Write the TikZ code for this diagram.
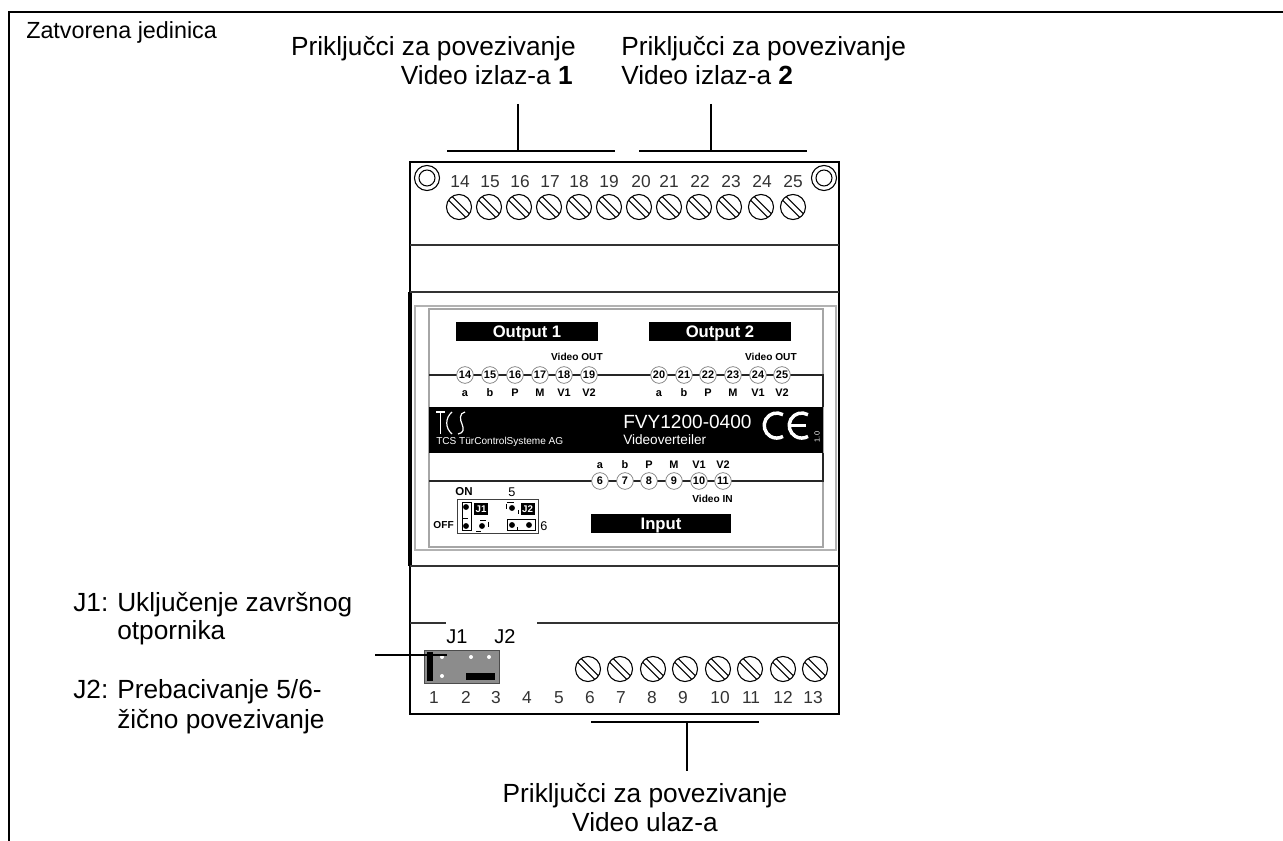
\documentclass[tikz,border=0pt]{standalone}
\usepackage{fontspec}
\setmainfont{Liberation Sans}
\usetikzlibrary{positioning,calc}
\newcommand{\hang}[1]{\makebox[33pt][l]{#1}}
\tikzset{
  label/.style={font=\fontsize{19.7}{23}\selectfont,inner sep=0pt},
  pinno/.style={font=\fontsize{13}{15}\selectfont,text=black!80,inner sep=0pt,anchor=base},
  term/.style={circle,draw=black!55,fill=white,line width=0.5pt,minimum size=12.5pt,inner sep=0pt,text height=5.9pt,text depth=0pt,font=\bfseries\fontsize{8.2}{9}\selectfont},
  termtxt/.style={font=\bfseries\fontsize{8.2}{9}\selectfont,inner sep=0pt,anchor=base},
  small/.style={font=\bfseries\fontsize{7.6}{9}\selectfont,inner sep=0pt},
  plate/.style={fill=black,text=white,font=\bfseries\fontsize{12.5}{14}\selectfont,inner sep=0pt,text height=9pt,text depth=0pt,minimum height=14.2pt},
  lead/.style={line width=1pt,black},
  edge/.style={line width=1pt,black!80},
  tag/.style={fill=black,text=white,inner sep=0pt,minimum width=10.5pt,minimum height=9pt,font=\bfseries\fontsize{7.3}{8}\selectfont},
  screw/.pic={
    \draw[line width=0.8pt,fill=white] (0,0) circle[radius=9.4pt];
    \draw[line width=0.7pt] (-7.85pt,5.15pt)--(5.15pt,-7.85pt);
    \draw[line width=0.7pt] (-5.15pt,7.85pt)--(7.85pt,-5.15pt);
  }
}
\begin{document}
\begin{tikzpicture}[x=0.75pt,y=-0.75pt]
  \useasboundingbox (0,0) rectangle (1283,841);
  \draw[line width=1.6pt] (9,841)--(9,12)--(1283,12);  % frame

  % housing
  \draw[line width=1.2pt] (410,162) rectangle (839,714);
  \draw[line width=2.4pt] (410,292)--(410,566);
  \draw[edge] (410,245)--(839,245);
  \draw[edge] (410,292)--(839,292);
  \draw[edge] (410,566)--(839,566);
  \draw[edge] (410,623)--(446,623);
  \draw[edge] (537,623)--(839,623);

  % label plate
  \draw[black!30,line width=0.8pt] (415,306) rectangle (836,550);
  \draw[black!35,line width=0.8pt] (429,309) rectangle (823,547);
  \draw[black!85,line width=0.8pt] (429,375)--(823,375)--(823,407);
  \draw[black!85,line width=0.8pt] (429,481)--(823,481)--(823,453);
  \fill[black] (429,407) rectangle (823,453);  % band

  % plates
  \node[plate,minimum width=106.5pt] (out1) at (527,331.5) {Output 1};
  \node[plate,minimum width=106.5pt] (out2) at (720,331.5) {Output 2};
  \node[plate,minimum width=105pt] (inp) at (661,523.5) {Input};
  \node[small,anchor=east] (vout1) at (603,357) {Video OUT};
  \node[small,anchor=east] (vout2) at (797,357) {Video OUT};
  \node[small,anchor=east] (vin) at (733,499) {Video IN};

  % terminals on the plate
  \foreach \x/\n/\s in {465/14/a,490/15/b,515/16/P,540/17/M,564/18/V1,589/19/V2,659/20/a,684/21/b,708/22/P,733/23/M,758/24/V1,782/25/V2}{
    \node[term] (t\n) at (\x,375) {\n};
    \node[termtxt] (s\n) at (\x,397) {\s};
  }
  \foreach \x/\n/\s in {600/6/a,625/7/b,649/8/P,674/9/M,699/10/V1,723/11/V2}{
    \node[term] (t\n) at (\x,481) {\n};
    \node[termtxt] (s\n) at (\x,469) {\s};
  }

  % logo
  \draw[white,line width=0.8pt] (436,412)--(445,412) (440.5,412)--(440.5,434);
  \draw[white,line width=0.9pt] (452,412) .. controls (445,418) and (445,428) .. (452,434);
  \draw[white,line width=0.9pt] (465,412) .. controls (459,413) and (460,420) .. (462,424) .. controls (464,429) and (464,433) .. (458,434);
  \node[anchor=west,text=white,inner sep=0pt,font=\fontsize{7.55}{9}\selectfont] (tcs) at (436,442) {TCS TürControlSysteme AG};
  \node[anchor=west,text=white,inner sep=0pt,font=\fontsize{14.3}{16}\selectfont] (fvy) at (623,422) {FVY1200-0400};
  \node[anchor=west,text=white,inner sep=0pt,font=\fontsize{10.2}{12}\selectfont] (vv) at (623,440) {Videoverteiler};
  \draw[white,line width=2.6pt] (783,414.7) arc[start angle=60,end angle=300,radius=9.4pt];
  \draw[white,line width=2.6pt] (808,414.7) arc[start angle=60,end angle=300,radius=9.4pt];
  \draw[white,line width=1.8pt] (791,425.5)--(806,425.5);
  \node[rotate=90,text=white,inner sep=0pt,font=\fontsize{5.5}{6}\selectfont] (ver) at (817,437) {1.0};

  % jumper legend
  \node[inner sep=0pt,font=\bfseries\fontsize{8.6}{10}\selectfont] (on) at (464,492) {ON};
  \node[inner sep=0pt,font=\fontsize{9.5}{11}\selectfont] (five) at (512,492) {5};
  \node[small,anchor=east] (off) at (454,525) {OFF};
  \node[inner sep=0pt,font=\fontsize{9.5}{11}\selectfont] (six) at (544,526) {6};
  \draw[black!75,line width=0.7pt] (457,499) rectangle (538,533);
  \draw[line width=0.7pt] (462,502) rectangle (471,530);
  \draw[line width=0.7pt] (507,519) rectangle (535,530);
  \draw[line width=0.6pt] (462,518)--(468,518) (480,520)--(486,520) (488,522)--(488,527) (476,531)--(481,531) (507,502)--(514,502) (506,504)--(506,509) (518,510)--(518,514) (517,527)--(517,530);
  \foreach \x/\y in {466/507,466/526,482/526,512/508,512/525,529/525}{
    \fill (\x,\y) circle[radius=2.2pt];
  }
  \node[tag] (j1p) at (481,509) {J1};
  \node[tag] (j2p) at (527.5,509) {J2};

  % top terminals
  \foreach \x/\n/\l in {459/14/460,489/15/490,519/16/520,549/17/550,579/18/579,609/19/609,639/20/641,669/21/669,699/22/700,729/23/731,761/24/762,793/25/793}{
    \node[pinno] (n\n) at (\l,188) {\n};
    \pic at (\x,207) {screw};
  }
  \foreach \x in {427,824}{
    \draw[line width=0.8pt] (\x,178) circle[radius=9.4pt];
    \draw[line width=0.8pt] (\x,178) circle[radius=6pt];
  }

  % bottom terminals
  \foreach \x in {588,620,653,685,718,750,783,815}{
    \pic at (\x,669) {screw};
  }
  \foreach \x/\n in {434/1,466/2,496/3,527/4,559/5,590/6,621/7,652/8,683/9,720/10,751/11,783/12,813/13}{
    \node[pinno] (m\n) at (\x,703) {\n};
  }

  % jumper block
  \fill[black!45] (424,650) rectangle (499,683);
  \draw[black!70,line width=0.6pt] (424,650) rectangle (499,683);
  \fill[black] (427,652) rectangle (433,681);
  \fill[black] (466,673) rectangle (495,680);
  \foreach \x/\y in {442/657,442/676,471/657,489/657}{
    \fill[white] (\x,\y) circle[radius=1.5pt];
  }
  \node[label,font=\fontsize{15}{17}\selectfont,anchor=base] (j1) at (457,644) {J1};
  \node[label,font=\fontsize{15}{17}\selectfont,anchor=base] (j2) at (505,644) {J2};

  % texts
  \node[label,font=\fontsize{17.5}{20}\selectfont,anchor=base west] (closed) at (26,39) {Zatvorena jedinica};
  \node[label,anchor=base east] (outA) at (576,56) {Priključci za povezivanje};
  \node[label,anchor=base east] (outAb) at (573,85) {Video izlaz-a \textbf{1}};
  \node[label,anchor=base west] (outB) at (621,56) {Priključci za povezivanje};
  \node[label,anchor=base west] (outBb) at (621,85) {Video izlaz-a \textbf{2}};
  \node[label,anchor=base] (inA) at (645,802) {Priključci za povezivanje};
  \node[label,anchor=base] (inAb) at (645,831) {Video ulaz-a};
  \node[label,anchor=base west] (jA) at (73,612) {\hang{J1:}Uključenje završnog};
  \node[label,anchor=base west] (jAb) at (117,639) {otpornika};
  \node[label,anchor=base west] (jB) at (73,698) {\hang{J2:}Prebacivanje 5/6-};
  \node[label,anchor=base west] (jBb) at (117,728) {žično povezivanje};

  % leaders
  \coordinate (topA) at (518,104);
  \coordinate (midA) at (518,151);
  \coordinate (topB) at (711,104);
  \coordinate (midB) at (711,151);
  \coordinate (midC) at (687,722);
  \coordinate (endC) at (687,771);
  \coordinate (jl) at (375,655);
  \coordinate (jr) at (447,655);
  \draw[lead] (447,151)--(615,151);
  \draw[lead] (639,151)--(807,151);
  \draw[lead] (591,722)--(759,722);
  \draw[lead] (topA)--(midA);
  \draw[lead] (topB)--(midB);
  \draw[lead] (midC)--(endC);
  \draw[lead] (jl)--(jr);
\end{tikzpicture}
\end{document}
